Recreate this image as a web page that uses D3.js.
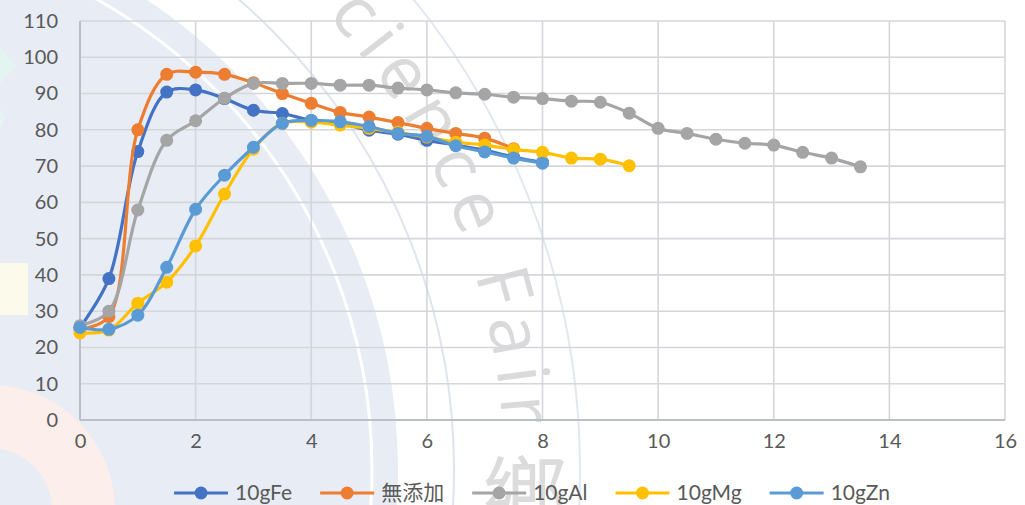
<!DOCTYPE html>
<html>
<head>
<meta charset="utf-8">
<script src="https://cdn.jsdelivr.net/npm/d3@7"></script>
<style>
  html, body { margin: 0; padding: 0; background: #fff; }
  svg { display: block; }
  text { font-family: Lato, "Liberation Sans", "Noto Sans CJK JP", sans-serif; }
</style>
</head>
<body>
<svg id="canvas" width="1025" height="505"></svg>
<script>
// time axis (x) shared by every series, step 0.5
const xFe = [0,0.5,1,1.5,2,2.5,3,3.5,4,4.5,5,5.5,6,6.5,7,7.5,8];
const fe  = [25.5,39,74,90.4,91,88.6,85.4,84.5,82.6,81.8,79.9,78.8,77.1,75.8,74.4,72.5,71];

const xNone = [0,0.5,1,1.5,2,2.5,3,3.5,4,4.5,5,5.5,6,6.5,7,7.5];
const none  = [25,28.5,80,95.3,95.9,95.3,93,90,87.3,84.8,83.5,82,80.4,79,77.7,74.8];

const xAl = [0,0.5,1,1.5,2,2.5,3,3.5,4,4.5,5,5.5,6,6.5,7,7.5,8,8.5,9,9.5,10,10.5,11,11.5,12,12.5,13,13.5];
const al  = [26,30,57.9,77.1,82.5,88.7,92.8,92.8,92.8,92.3,92.3,91.5,91,90.2,89.8,89,88.6,87.9,87.6,84.6,80.4,79,77.4,76.3,75.8,73.8,72.2,69.8];

const xMg = [0,0.5,1,1.5,2,2.5,3,3.5,4,4.5,5,5.5,6,6.5,7,7.5,8,8.5,9,9.5];
const mg  = [24,24.8,32.2,38,48,62.3,74.7,81.8,82.1,81.3,80.4,79.3,78,76.6,75.8,74.6,73.8,72.2,71.9,70.1];

const xZn = [0,0.5,1,1.5,2,2.5,3,3.5,4,4.5,5,5.5,6,6.5,7,7.5,8];
const zn  = [25.5,25,28.9,42.1,58.1,67.5,75.2,81.8,82.6,82.2,80.9,79,78.2,75.6,73.9,72.2,70.8];

const seriesNames  = ["10gFe", "無添加", "10gAl", "10gMg", "10gZn"];
const seriesColors = ["#4472C4", "#ED7D31", "#A5A5A5", "#FFC000", "#5B9BD5"];
const xTicks = [0,2,4,6,8,10,12,14,16];
const yTicks = [0,10,20,30,40,50,60,70,80,90,100,110];

const series = [
  {name: seriesNames[0], color: seriesColors[0], xs: xFe,   ys: fe},
  {name: seriesNames[1], color: seriesColors[1], xs: xNone, ys: none},
  {name: seriesNames[2], color: seriesColors[2], xs: xAl,   ys: al},
  {name: seriesNames[3], color: seriesColors[3], xs: xMg,   ys: mg},
  {name: seriesNames[4], color: seriesColors[4], xs: xZn,   ys: zn}
];

const svg = d3.select("#canvas");
const x = d3.scaleLinear().domain([0, 16]).range([80, 1005]);
const y = d3.scaleLinear().domain([0, 110]).range([420, 21]);

// ---- background decoration (watermark of the source picture) ----
const bg = svg.append("g");
const cx = -168, cy = 470;
bg.append("circle").attr("cx", cx).attr("cy", cy).attr("r", 566).attr("fill", "#E8ECF5");
bg.append("circle").attr("cx", cx).attr("cy", cy).attr("r", 540)
  .attr("fill", "none").attr("stroke", "#fff").attr("stroke-width", 3);
bg.append("circle").attr("cx", cx).attr("cy", cy).attr("r", 622)
  .attr("fill", "none").attr("stroke", "#DFE4EF").attr("stroke-width", 2);
bg.append("circle").attr("cx", cx).attr("cy", cy).attr("r", 748)
  .attr("fill", "none").attr("stroke", "#E3E7F0").attr("stroke-width", 2);
bg.append("path")
  .attr("d", d3.arc()({innerRadius: 62, outerRadius: 125, startAngle: 0, endAngle: Math.PI / 2 + 0.2}))
  .attr("transform", "translate(-10,510)")
  .attr("fill", "#FCEEEA");
bg.append("rect").attr("x", 0).attr("y", 263).attr("width", 28).attr("height", 52).attr("fill", "#FCFAEB");
bg.append("path").attr("d", "M0,48 L16,66 L0,84 Z").attr("fill", "#E4F4F1");
bg.append("path").attr("d", "M0,108 L6,118 L0,128 Z").attr("fill", "#E4F4F1");

const r0 = 672, a0 = -70 * Math.PI / 180, a1 = 25 * Math.PI / 180;
svg.append("defs").append("path").attr("id", "wmArc")
  .attr("d", `M${cx + r0 * Math.cos(a0)},${cy + r0 * Math.sin(a0)} A${r0},${r0} 0 0 1 ${cx + r0 * Math.cos(a1)},${cy + r0 * Math.sin(a1)}`);
bg.append("text")
  .attr("font-size", 72).attr("fill", "#DADADA").attr("letter-spacing", 10)
  .style("font-family", "'Open Sans', sans-serif")
  .append("textPath").attr("href", "#wmArc").attr("startOffset", 272)
  .text("Science Fair");
bg.append("text").attr("x", 482).attr("y", 527).attr("font-size", 85)
  .attr("fill", "#DCDCDC").style("font-family", "'Noto Sans CJK TC'").text("鄉");

// ---- grid ----
const grid = svg.append("g");
grid.selectAll(".hg").data(yTicks.slice(1)).enter().append("line")
  .attr("x1", x(0)).attr("x2", x(16)).attr("y1", d => y(d)).attr("y2", d => y(d))
  .attr("stroke", "#D4D6DA").attr("stroke-width", 1.6);
grid.selectAll(".vg").data(xTicks.slice(1)).enter().append("line")
  .attr("x1", d => x(d)).attr("x2", d => x(d)).attr("y1", y(0)).attr("y2", y(110))
  .attr("stroke", "#D4D6DA").attr("stroke-width", 1.6);
grid.append("line").attr("x1", x(0)).attr("x2", x(0)).attr("y1", y(0)).attr("y2", y(110))
  .attr("stroke", "#BCBFC5").attr("stroke-width", 2);
grid.append("line").attr("x1", x(0)).attr("x2", x(16)).attr("y1", y(0)).attr("y2", y(0))
  .attr("stroke", "#BCBFC5").attr("stroke-width", 2);

// ---- axes labels ----
const yAxis = svg.append("g").attr("transform", "translate(80,0)")
  .call(d3.axisLeft(y).tickValues(yTicks).tickSize(0).tickPadding(22));
const xAxis = svg.append("g").attr("transform", "translate(0,420)")
  .call(d3.axisBottom(x).tickValues(xTicks).tickSize(0).tickPadding(14));
[yAxis, xAxis].forEach(a => {
  a.select(".domain").remove();
  a.selectAll("text").attr("font-size", 20).attr("fill", "#595959")
    .style("font-family", "Lato, sans-serif");
});

// ---- series ----
const line = d3.line().curve(d3.curveCatmullRom.alpha(0.5))
  .x(d => x(d[0])).y(d => y(d[1]));

series.forEach(s => {
  const pts = s.xs.map((v, i) => [v, s.ys[i]]);
  const g = svg.append("g");
  g.append("path").attr("d", line(pts)).attr("fill", "none")
    .attr("stroke", s.color).attr("stroke-width", 3.2).attr("stroke-linecap", "round");
  g.selectAll("circle").data(pts).enter().append("circle")
    .attr("cx", d => x(d[0])).attr("cy", d => y(d[1])).attr("r", 6.5)
    .attr("fill", s.color);
});

// ---- legend ----
const legend = svg.append("g");
let lx = 0;
series.forEach(s => {
  const it = legend.append("g").attr("transform", `translate(${lx},0)`);
  it.append("line").attr("x1", 0).attr("x2", 54).attr("y1", 0).attr("y2", 0)
    .attr("stroke", s.color).attr("stroke-width", 3.2);
  it.append("circle").attr("cx", 27).attr("cy", 0).attr("r", 6.5).attr("fill", s.color);
  const t = it.append("text").attr("x", 61).attr("y", 7).attr("font-size", 21)
    .attr("fill", "#595959").text(s.name);
  lx += 61 + t.node().getComputedTextLength() + 28;
});
legend.attr("transform", `translate(${532 - (lx - 28) / 2},493)`);
</script>
</body>
</html>
